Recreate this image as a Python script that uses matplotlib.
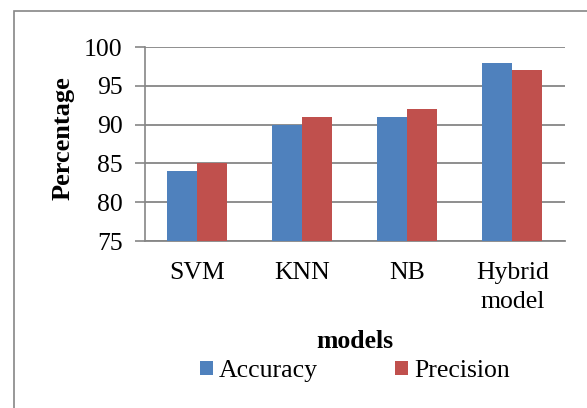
import numpy as np
import matplotlib
matplotlib.use("Agg")
from matplotlib import pyplot as plt
from matplotlib.patches import Rectangle

models = ['SVM', 'KNN', 'NB', 'Hybrid\nmodel']
accuracy = [84, 90, 91, 98]
precision = [85, 91, 92, 97]

plt.rcParams['font.family'] = 'serif'
plt.rcParams['font.serif'] = ['Liberation Serif', 'DejaVu Serif']
blue = '#4F81BD'
red = '#C0504D'
grey = '#868686'

fig = plt.figure(figsize=(5.87, 4.08), dpi=100)
ax = fig.add_axes([0.2470, 0.4093, 0.7155, 0.4755])

# outer chart border (right and bottom run off the image)
fig.patches.append(Rectangle((14/587, -0.1), 1.0, 1.0 - 11/408 + 0.1,
                             transform=fig.transFigure, fill=False,
                             edgecolor=grey, linewidth=1.2))

x = np.arange(len(models))
w = 0.2857
ax.bar(x - w/2, accuracy, w, color=blue, label='Accuracy', zorder=3)
ax.bar(x + w/2, precision, w, color=red, label='Precision', zorder=3)

ax.set_xlim(-0.5, len(models) - 0.5)
ax.set_ylim(75, 100)
ax.set_yticks(range(75, 101, 5))
ax.set_xticks(x)
ax.set_xticklabels(models, fontsize=18.5, linespacing=1.4)
ax.tick_params(axis='y', labelsize=18.5, length=7, color=grey, width=1.2, pad=9)
ax.tick_params(axis='x', length=0, pad=15)
ax.yaxis.grid(True, color=grey, linewidth=1.3, zorder=0)

for s in ['top', 'right']:
    ax.spines[s].set_visible(False)
ax.spines['left'].set_color(grey)
ax.spines['bottom'].set_color(grey)
ax.spines['left'].set_linewidth(1.2)
ax.spines['bottom'].set_linewidth(1.3)

ax.set_xlabel('models', fontsize=18.5, fontweight='bold')
ax.xaxis.set_label_coords(0.5, -0.52)
ax.xaxis.label.set_va('center')
ax.set_ylabel('Percentage', fontsize=19, fontweight='bold')
ax.yaxis.set_label_coords(-0.195, 0.53)
ax.yaxis.label.set_va('center')

fig.legend(loc='center', bbox_to_anchor=(355/587, 1 - 371/408), ncol=2,
           frameon=False, fontsize=18.5, handlelength=0.5, handleheight=0.5,
           handletextpad=0.25, columnspacing=3.0)

plt.savefig('out.png', dpi=100)
